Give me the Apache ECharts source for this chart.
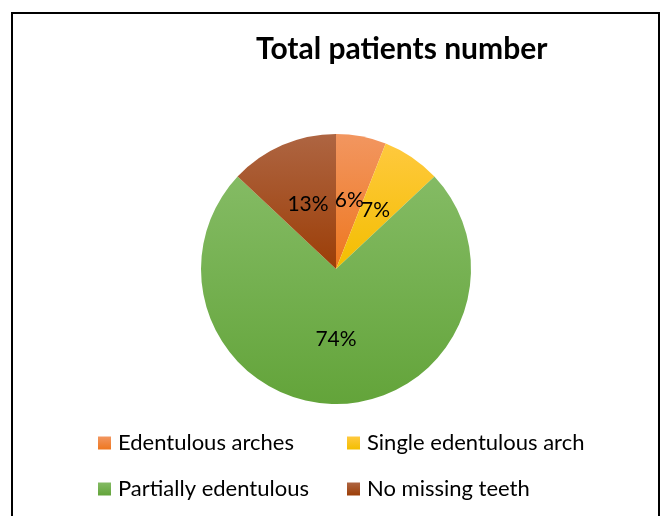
<!DOCTYPE html>
<html><head><meta charset="utf-8">
<script src="https://cdn.jsdelivr.net/npm/echarts@6/dist/echarts.min.js"></script>
<style>html,body{margin:0;padding:0;background:#fff}#c{width:666px;height:516px}</style>
</head><body><div id="c"></div>
<script>
var titleText = 'Total patients number';
var categories = ['Edentulous arches', 'Single edentulous arch', 'Partially edentulous', 'No missing teeth'];
var values = [6, 7, 74, 13];
var colorTop = ['#F29660', '#FFC93E', '#84BB64', '#AE6542'];
var colorBottom = ['#EE771F', '#F3BE00', '#63A43A', '#9C3E07'];
var FONT = 'Lato';
function grad(i){
  return new echarts.graphic.LinearGradient(0,0,0,1,[{offset:0,color:colorTop[i]},{offset:1,color:colorBottom[i]}]);
}
var data = categories.map(function(n,i){return {name:n,value:values[i],itemStyle:{color:grad(i)}};});
var chart = echarts.init(document.getElementById('c'));
var legendCommon = {orient:'vertical', itemWidth:13, itemHeight:13, itemGap:24, icon:'rect', padding:0,
  textStyle:{fontFamily:FONT,fontSize:22,color:'#000', padding:[0,0,0,2]}, selectedMode:false};
chart.setOption({
  backgroundColor:'#fff',
  animation:false,
  title:{text:titleText, left:256, top:34, padding:0,
    textStyle:{fontFamily:FONT,fontSize:30,fontWeight:'bold',color:'#000'}},
  graphic:[{type:'rect', shape:{x:12,y:13,width:647,height:530}, style:{fill:'none',stroke:'#000',lineWidth:2}, silent:true}],
  legend:[
    Object.assign({left:98, top:432, data:[categories[0],categories[2]]}, legendCommon),
    Object.assign({left:347, top:432, data:[categories[1],categories[3]]}, legendCommon)
  ],
  series:[{type:'pie', center:[336,269], radius:135, startAngle:90, clockwise:true,
    avoidLabelOverlap:false,
    label:{show:true, position:'inside', formatter:'{d}%', fontFamily:FONT, fontSize:21, color:'#000'},
    labelLine:{show:false}, labelLayout:{hideOverlap:false}, itemStyle:{borderWidth:0}, emphasis:{disabled:true},
    data:data}]
});
</script></body></html>
